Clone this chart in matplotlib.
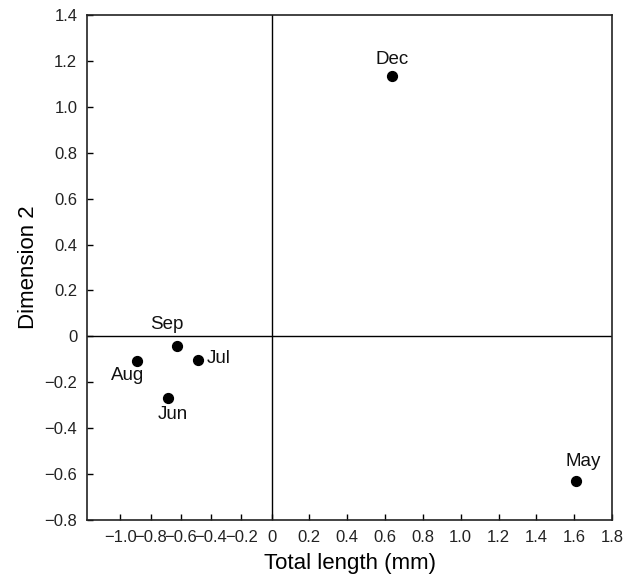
import numpy as np
import matplotlib
matplotlib.use("Agg")
import matplotlib.pyplot as plt
from matplotlib.ticker import FixedLocator, FuncFormatter

plt.rcParams['font.family'] = ['Liberation Sans', 'DejaVu Sans']

# ---- data ----
months = ['Dec', 'May', 'Sep', 'Aug', 'Jul', 'Jun']
dim1 = [0.635, 1.61, -0.627, -0.891, -0.488, -0.686]
dim2 = [1.133, -0.632, -0.044, -0.109, -0.105, -0.270]
# label offsets in pixels (dx, dy) and alignment
lab_off = [(0, 17), (7, 20), (-10, 22), (-9, -14), (9, 2), (5, -16)]
lab_ha = ['center', 'center', 'center', 'center', 'left', 'center']

xticks = [-1.0, -0.8, -0.6, -0.4, -0.2, 0, 0.2, 0.4, 0.6, 0.8, 1.0, 1.2, 1.4, 1.6, 1.8]
yticks = [-0.8, -0.6, -0.4, -0.2, 0, 0.2, 0.4, 0.6, 0.8, 1.0, 1.2, 1.4]

# negative side of the x axis is drawn compressed in the original
neg_k = 0.8
def fwd(x):
    x = np.asarray(x, dtype=float)
    return np.where(x < 0, x * neg_k, x)
def inv(x):
    x = np.asarray(x, dtype=float)
    return np.where(x < 0, x / neg_k, x)

def fmt(v, pos):
    if abs(v) < 1e-9:
        return '0'
    return ('%.1f' % v).replace('-', '\u2212')

fig = plt.figure(figsize=(6.32, 5.85), dpi=100)
ax = fig.add_axes([87/632, 1 - 520/585, (612-87)/632, (520-15)/585])
ax.set_xscale('function', functions=(fwd, inv))

ax.scatter(dim1, dim2, s=50, color='black', zorder=3)
for m, x, y, off, ha in zip(months, dim1, dim2, lab_off, lab_ha):
    ax.annotate(m, (x, y), xytext=off, textcoords='offset pixels',
                ha=ha, va='center', fontsize=13.5, color='#111111')

ax.axhline(0, color='black', lw=1.0)
ax.axvline(0, color='black', lw=1.0)

ax.set_xlim(-1.22, 1.8)
ax.set_ylim(-0.8, 1.4)
ax.xaxis.set_major_locator(FixedLocator(xticks))
ax.yaxis.set_major_locator(FixedLocator(yticks))
ax.xaxis.set_major_formatter(FuncFormatter(fmt))
ax.yaxis.set_major_formatter(FuncFormatter(fmt))
ax.xaxis.set_minor_locator(FixedLocator([]))
ax.tick_params(direction='in', length=4, width=1, labelsize=12,
               labelcolor='#222222', pad=7)
for s in ax.spines.values():
    s.set_linewidth(1.2)
    s.set_color('#222222')

ax.set_xlabel('Total length (mm)', fontsize=16, labelpad=6)
ax.set_ylabel('Dimension 2', fontsize=16, labelpad=4)

fig.savefig('out.png', dpi=100)
